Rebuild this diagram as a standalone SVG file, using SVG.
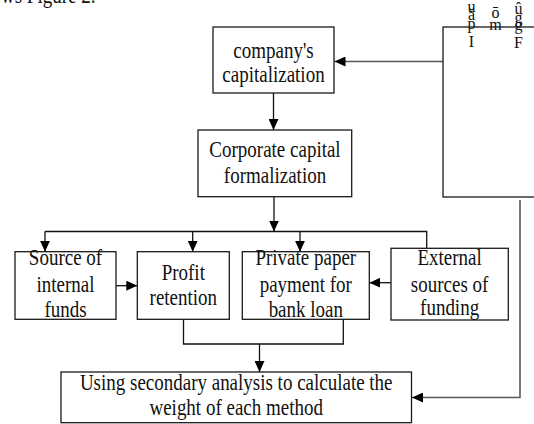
<svg xmlns="http://www.w3.org/2000/svg" width="534" height="424" viewBox="0 0 534 424">
  <style>
    .box { fill: #fff; stroke: #1a1a1a; stroke-width: 1.3; }
    .lbl { font-family: "Liberation Serif", "Times New Roman", serif; font-size: 19px; fill: #111; text-anchor: middle; }
    .glyph { font-family: "Liberation Serif", "Times New Roman", serif; font-size: 16px; fill: #111; text-anchor: middle; }
    .wire { fill: none; stroke: #111; stroke-width: 1.3; }
    .wire-grey { fill: none; stroke: #5a5a5a; stroke-width: 1.6; }
  </style>
  <defs>
    <marker id="arrow" markerUnits="userSpaceOnUse" markerWidth="11" markerHeight="10" refX="11" refY="5" orient="auto">
      <path d="M0,0 L11,5 L0,10 Z" fill="#000"/>
    </marker>
  </defs>
  <rect width="534" height="424" fill="#fff"/>

  <!-- caption fragment at the top edge -->
  <text class="lbl" style="text-anchor:start" transform="translate(1 3) scale(1 1.18)">ws Figure 2.</text>

  <g id="connectors">
    <line class="wire-grey" x1="443" y1="61.5" x2="334.5" y2="61.5" marker-end="url(#arrow)"/>
    <line class="wire" x1="273.5" y1="93" x2="273.5" y2="130" marker-end="url(#arrow)"/>
    <line class="wire" x1="274" y1="197" x2="274" y2="231.5" marker-end="url(#arrow)"/>
    <path class="wire" d="M45,231.5 H426.7 V248.3"/>
    <line class="wire" x1="45" y1="231.5" x2="45" y2="251.7" marker-end="url(#arrow)"/>
    <line class="wire" x1="192.7" y1="231.5" x2="192.7" y2="251.7" marker-end="url(#arrow)"/>
    <line class="wire" x1="300" y1="231.5" x2="300" y2="251.7" marker-end="url(#arrow)"/>
    <line class="wire" x1="116" y1="285.7" x2="137.3" y2="285.7" marker-end="url(#arrow)"/>
    <line class="wire" x1="391" y1="282.7" x2="369.3" y2="282.7" marker-end="url(#arrow)"/>
    <path class="wire" d="M183.5,319.3 V344 H343.3 V319.3"/>
    <line class="wire" x1="259.5" y1="344" x2="259.5" y2="372" marker-end="url(#arrow)"/>
    <path class="wire-grey" d="M520,200 V397.5 H412" marker-end="url(#arrow)"/>
  </g>

  <g id="capitalization">
    <rect class="box" x="213" y="27" width="121" height="66"/>
    <text class="lbl" transform="translate(273.5 57.5) scale(1 1.18)">company's</text>
    <text class="lbl" transform="translate(273.5 82) scale(1 1.18)">capitalization</text>
  </g>

  <g id="formalization">
    <rect class="box" x="198" y="130" width="153.7" height="66.7"/>
    <text class="lbl" transform="translate(275 156.5) scale(1 1.18)">Corporate capital</text>
    <text class="lbl" transform="translate(275 183) scale(1 1.18)">formalization</text>
  </g>

  <g id="side-panel">
    <rect class="box" x="443" y="27" width="100" height="170"/>
    <!-- stacked glyph columns, one text per column -->
    <text class="glyph"><tspan x="471.5" y="12">u</tspan><tspan x="471.5" y="20">ă</tspan><tspan x="471.5" y="29">p</tspan><tspan x="471.5" y="47">I</tspan></text>
    <text class="glyph"><tspan x="495.5" y="18">ō</tspan><tspan x="495.5" y="30">m</tspan></text>
    <text class="glyph"><tspan x="518.5" y="14">û</tspan><tspan x="518.5" y="23">g</tspan><tspan x="518.5" y="30">g</tspan><tspan x="518.5" y="48">F</tspan></text>
  </g>

  <g id="internal-funds">
    <rect class="box" x="15" y="251.7" width="101" height="67.6"/>
    <text class="lbl" transform="translate(65.5 265) scale(1 1.18)">Source of</text>
    <text class="lbl" transform="translate(65.5 291.5) scale(1 1.18)">internal</text>
    <text class="lbl" transform="translate(65.5 316.5) scale(1 1.18)">funds</text>
  </g>

  <g id="profit-retention">
    <rect class="box" x="137.3" y="251.7" width="92" height="67.6"/>
    <text class="lbl" transform="translate(183.3 280) scale(1 1.18)">Profit</text>
    <text class="lbl" transform="translate(183.3 305) scale(1 1.18)">retention</text>
  </g>

  <g id="bank-loan">
    <rect class="box" x="242.3" y="251.7" width="127" height="67.6"/>
    <text class="lbl" transform="translate(305.8 265) scale(1 1.18)">Private paper</text>
    <text class="lbl" transform="translate(305.8 291.5) scale(1 1.18)">payment for</text>
    <text class="lbl" transform="translate(305.8 316.5) scale(1 1.18)">bank loan</text>
  </g>

  <g id="external-funding">
    <rect class="box" x="391" y="248.3" width="117.3" height="71.7"/>
    <text class="lbl" transform="translate(449.6 265) scale(1 1.18)">External</text>
    <text class="lbl" transform="translate(449.6 291.5) scale(1 1.18)">sources of</text>
    <text class="lbl" transform="translate(449.6 315) scale(1 1.18)">funding</text>
  </g>

  <g id="weighting">
    <rect class="box" x="61" y="372" width="350.5" height="50.7"/>
    <text class="lbl" transform="translate(236.2 390) scale(1 1.18)">Using secondary analysis to calculate the</text>
    <text class="lbl" transform="translate(236.2 415) scale(1 1.18)">weight of each method</text>
  </g>
</svg>
